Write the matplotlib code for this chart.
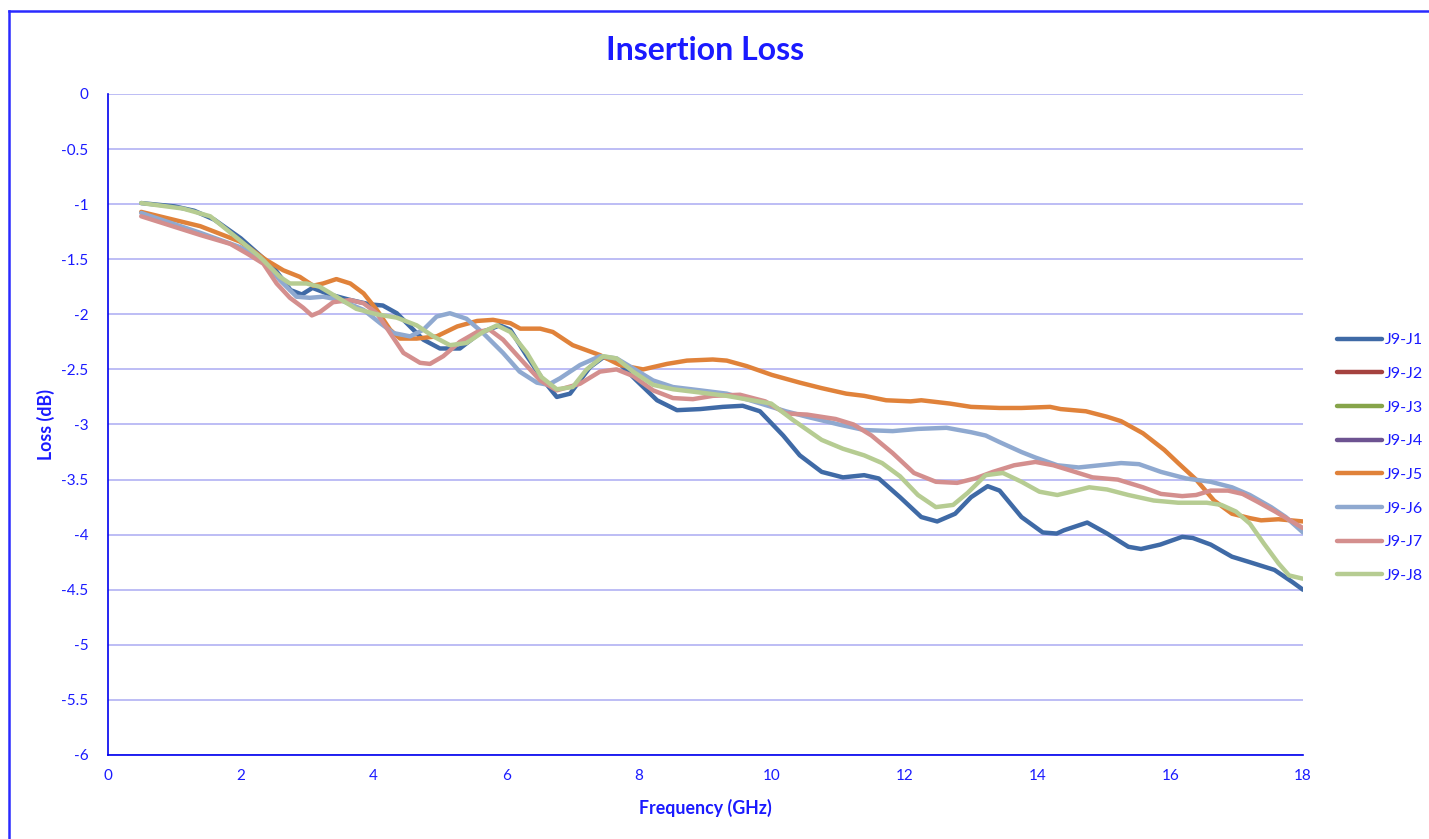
import matplotlib
matplotlib.use("Agg")
import matplotlib.pyplot as plt
from matplotlib.lines import Line2D

plt.rcParams['font.family'] = ['Lato', 'DejaVu Sans']

title = "Insertion Loss"
x_label = "Frequency (GHz)"
y_label = "Loss (dB)"
series_names = ["J9-J1", "J9-J2", "J9-J3", "J9-J4", "J9-J5", "J9-J6", "J9-J7", "J9-J8"]
series_colors = ["#3f6aa6", "#a5423f", "#86a44a", "#6d5391", "#e0823a", "#8fa9d0", "#d48f8e", "#b6cc92"]

j1_f = [0.5, 1.0, 1.3, 1.6, 2.0, 2.3, 2.5, 2.75, 2.92, 3.08, 3.34, 3.65, 3.95, 4.14, 4.35, 4.55, 4.75, 5.0, 5.3,
        5.6, 5.9, 6.06, 6.31, 6.56, 6.76, 6.96, 7.26, 7.46, 7.66, 7.96, 8.27, 8.57, 8.92, 9.26, 9.56, 9.82,
        10.17, 10.42, 10.75, 11.07, 11.39, 11.61, 11.93, 12.25, 12.49, 12.76, 13.0, 13.25, 13.43, 13.76, 14.08,
        14.29, 14.4, 14.75, 15.05, 15.37, 15.56, 15.85, 16.18, 16.34, 16.61, 16.93, 17.2, 17.57, 17.84, 18.0]
j1_v = [-0.99, -1.02, -1.06, -1.14, -1.31, -1.47, -1.58, -1.78, -1.82, -1.76, -1.82, -1.87, -1.91, -1.92, -1.99,
        -2.11, -2.23, -2.31, -2.31, -2.17, -2.1, -2.14, -2.38, -2.6, -2.75, -2.72, -2.48, -2.39, -2.42, -2.6,
        -2.78, -2.87, -2.86, -2.84, -2.83, -2.88, -3.1, -3.28, -3.43, -3.48, -3.46, -3.49, -3.66, -3.84, -3.88,
        -3.81, -3.66, -3.56, -3.6, -3.84, -3.98, -3.99, -3.96, -3.89, -3.99, -4.11, -4.13, -4.09, -4.02, -4.03,
        -4.09, -4.2, -4.25, -4.32, -4.43, -4.5]

j2_f, j2_v = [], []
j3_f, j3_v = [], []
j4_f, j4_v = [], []

j5_f = [0.5, 1.39, 1.99, 2.39, 2.64, 2.89, 3.09, 3.24, 3.44, 3.65, 3.85, 4.05, 4.25, 4.4, 4.65, 4.95, 5.26,
        5.56, 5.8, 6.06, 6.21, 6.51, 6.7, 7.0, 7.41, 7.71, 8.06, 8.42, 8.72, 9.11, 9.32, 9.62, 10.0, 10.42,
        10.75, 11.12, 11.39, 11.72, 12.09, 12.25, 12.68, 13.0, 13.43, 13.76, 14.19, 14.35, 14.73, 15.05, 15.26,
        15.59, 15.91, 16.12, 16.39, 16.66, 16.93, 17.2, 17.37, 17.63, 18.0]
j5_v = [-1.07, -1.2, -1.34, -1.51, -1.6, -1.66, -1.74, -1.72, -1.68, -1.72, -1.81, -1.96, -2.14, -2.22, -2.22,
        -2.2, -2.11, -2.06, -2.05, -2.08, -2.13, -2.13, -2.16, -2.28, -2.37, -2.46, -2.5, -2.45, -2.42, -2.41,
        -2.42, -2.47, -2.55, -2.62, -2.67, -2.72, -2.74, -2.78, -2.79, -2.78, -2.81, -2.84, -2.85, -2.85, -2.84,
        -2.86, -2.88, -2.93, -2.97, -3.08, -3.23, -3.35, -3.5, -3.69, -3.81, -3.85, -3.87, -3.86, -3.88]

j6_f = [0.5, 1.39, 1.99, 2.34, 2.59, 2.84, 3.04, 3.24, 3.5, 3.85, 4.1, 4.3, 4.55, 4.75, 4.95, 5.15, 5.4, 5.65,
        5.95, 6.2, 6.46, 6.63, 6.81, 7.11, 7.41, 7.66, 7.91, 8.21, 8.51, 8.92, 9.32, 9.67, 10.21, 10.53, 11.01,
        11.39, 11.82, 12.2, 12.63, 13.0, 13.22, 13.43, 13.76, 13.97, 14.3, 14.62, 14.94, 15.26, 15.53, 15.86,
        16.24, 16.61, 16.93, 17.2, 17.52, 17.74, 18.0]
j6_v = [-1.08, -1.26, -1.39, -1.51, -1.69, -1.84, -1.85, -1.84, -1.87, -1.96, -2.08, -2.17, -2.2, -2.14, -2.02,
        -1.99, -2.04, -2.17, -2.35, -2.52, -2.62, -2.64, -2.58, -2.46, -2.38, -2.4, -2.49, -2.6, -2.66, -2.69,
        -2.72, -2.78, -2.88, -2.93, -3.0, -3.05, -3.06, -3.04, -3.03, -3.07, -3.1, -3.16, -3.25, -3.3, -3.37,
        -3.39, -3.37, -3.35, -3.36, -3.43, -3.49, -3.52, -3.57, -3.64, -3.75, -3.84, -3.98]

j7_f = [0.5, 1.39, 1.84, 2.1, 2.34, 2.54, 2.74, 2.94, 3.07, 3.19, 3.39, 3.65, 3.85, 4.05, 4.25, 4.45, 4.7,
        4.85, 5.05, 5.3, 5.56, 5.75, 5.95, 6.22, 6.51, 6.76, 7.11, 7.41, 7.66, 7.91, 8.21, 8.51, 8.81, 9.11,
        9.52, 9.9, 10.21, 10.53, 10.96, 11.23, 11.5, 11.82, 12.14, 12.47, 12.79, 13.06, 13.33, 13.65, 13.97,
        14.24, 14.51, 14.83, 15.21, 15.59, 15.86, 16.18, 16.39, 16.61, 16.87, 17.09, 17.31, 17.58, 18.0]
j7_v = [-1.11, -1.28, -1.36, -1.45, -1.54, -1.72, -1.85, -1.94, -2.01, -1.98, -1.89, -1.87, -1.9, -1.99, -2.17,
        -2.35, -2.44, -2.45, -2.38, -2.25, -2.16, -2.14, -2.23, -2.41, -2.6, -2.69, -2.63, -2.52, -2.5, -2.56,
        -2.69, -2.76, -2.77, -2.74, -2.73, -2.79, -2.9, -2.91, -2.95, -3.0, -3.1, -3.26, -3.44, -3.52, -3.53,
        -3.49, -3.43, -3.37, -3.34, -3.37, -3.42, -3.48, -3.5, -3.57, -3.63, -3.65, -3.64, -3.6, -3.6, -3.63,
        -3.7, -3.79, -3.94]

j8_f = [0.5, 1.13, 1.54, 1.99, 2.29, 2.59, 2.74, 2.99, 3.19, 3.44, 3.74, 4.05, 4.35, 4.65, 4.9, 5.15, 5.4,
        5.65, 5.86, 6.06, 6.31, 6.53, 6.76, 7.0, 7.21, 7.46, 7.66, 7.91, 8.21, 8.51, 8.92, 9.32, 9.7, 9.99,
        10.32, 10.75, 11.07, 11.39, 11.66, 11.93, 12.2, 12.47, 12.73, 12.95, 13.22, 13.48, 13.76, 14.03, 14.3,
        14.51, 14.78, 15.05, 15.37, 15.75, 16.12, 16.55, 16.77, 16.99, 17.2, 17.41, 17.63, 17.79, 18.0]
j8_v = [-0.99, -1.04, -1.11, -1.33, -1.48, -1.66, -1.72, -1.72, -1.75, -1.84, -1.95, -2.0, -2.03, -2.1, -2.2,
        -2.28, -2.26, -2.16, -2.1, -2.16, -2.35, -2.57, -2.68, -2.66, -2.5, -2.38, -2.4, -2.52, -2.64, -2.68,
        -2.71, -2.74, -2.78, -2.81, -2.96, -3.14, -3.22, -3.28, -3.35, -3.47, -3.64, -3.75, -3.73, -3.62, -3.46,
        -3.44, -3.52, -3.61, -3.64, -3.61, -3.57, -3.59, -3.64, -3.69, -3.71, -3.71, -3.73, -3.79, -3.9, -4.08,
        -4.26, -4.37, -4.4]

x_ticks = [0, 2, 4, 6, 8, 10, 12, 14, 16, 18]
y_ticks = [0, -0.5, -1, -1.5, -2, -2.5, -3, -3.5, -4, -4.5, -5, -5.5, -6]
y_tick_labels = ["0", "-0.5", "-1", "-1.5", "-2", "-2.5", "-3", "-3.5", "-4", "-4.5", "-5", "-5.5", "-6"]

all_f = [j1_f, j2_f, j3_f, j4_f, j5_f, j6_f, j7_f, j8_f]
all_v = [j1_v, j2_v, j3_v, j4_v, j5_v, j6_v, j7_v, j8_v]

blue = "#1a1aff"
W, H = 1429, 839
fig = plt.figure(figsize=(W / 100, H / 100), dpi=100)
ax = fig.add_axes([108 / W, 1 - 755 / H, (1303 - 108) / W, (755 - 94) / H])

for f, v, name, col in zip(all_f, all_v, series_names, series_colors):
    ax.plot(f, v, color=col, lw=3.2, label=name, solid_capstyle='round',
            solid_joinstyle='round', zorder=3)

ax.set_xlim(0, 18)
ax.set_ylim(-6, 0)
ax.set_xticks(x_ticks)
ax.set_xticklabels([str(t) for t in x_ticks])
ax.set_yticks(y_ticks)
ax.set_yticklabels(y_tick_labels)
ax.tick_params(axis='both', length=0, labelsize=11, colors=blue)
ax.tick_params(axis='y', pad=14)
ax.tick_params(axis='x', pad=10)
ax.grid(axis='y', color='#b8b8f5', lw=1.3, zorder=0)
for s in ['top', 'right']:
    ax.spines[s].set_visible(False)
for s in ['left', 'bottom']:
    ax.spines[s].set_color('#0000ee')
    ax.spines[s].set_linewidth(1.2)

fig.text((108 + 1303) / 2 / W, 1 - 50 / H, title, ha='center', va='center',
         fontsize=23, fontweight='bold', color=blue)
fig.text((108 + 1303) / 2 / W, 1 - 808 / H, x_label, ha='center', va='center',
         fontsize=12.8, fontweight='bold', color=blue)
fig.text(46 / W, 1 - (94 + 755) / 2 / H, y_label, ha='center', va='center', rotation=90,
         fontsize=12.8, fontweight='bold', color=blue)

leg = fig.legend(loc='center left', bbox_to_anchor=(1337 / W, 1 - 458 / H), frameon=False,
                 fontsize=11.5, handlelength=2.8, labelspacing=1.22, handletextpad=0.2,
                 borderaxespad=0, borderpad=0)
for t in leg.get_texts():
    t.set_color(blue)
for h in leg.legend_handles:
    h.set_linewidth(3.2)

# figure frame (left and top edges visible)
fig.add_artist(Line2D([8.5 / W, 8.5 / W], [0, 1 - 10.5 / H], transform=fig.transFigure,
                      color='#2a2aff', lw=1.8))
fig.add_artist(Line2D([8.5 / W, 1], [1 - 10.5 / H, 1 - 10.5 / H], transform=fig.transFigure,
                      color='#2a2aff', lw=1.8))

fig.savefig("out.png", dpi=100)
